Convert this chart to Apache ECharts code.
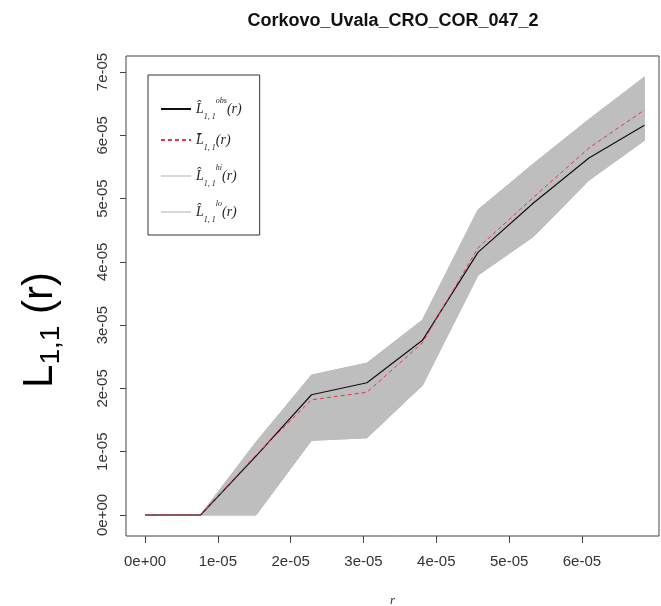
<!DOCTYPE html>
<html>
<head>
<meta charset="utf-8">
<script src="https://cdn.jsdelivr.net/npm/echarts@6/dist/echarts.min.js"></script>
<style>
  html, body { margin: 0; padding: 0; background: #fff; }
  #chart { width: 661px; height: 606px; }
</style>
</head>
<body>
<div id="chart"></div>
<script>
// values are in units of 1e-5
const UNIT = 1e-5
const rValues = [0, 0.762, 1.524, 2.286, 3.048, 3.81, 4.572, 5.334, 6.096, 6.858]
const obsValues = [0, 0, 0.93, 1.90, 2.09, 2.76, 4.15, 4.93, 5.64, 6.16]
const meanValues = [0, 0, 0.95, 1.82, 1.94, 2.72, 4.22, 5.02, 5.80, 6.40]
const hiValues = [0, 0, 1.15, 2.21, 2.40, 3.08, 4.82, 5.55, 6.25, 6.92]
const loValues = [0, 0, 0, 1.18, 1.22, 2.05, 3.79, 4.40, 5.29, 5.92]

const xTicks = [0, 1, 2, 3, 4, 5, 6]
const xTickLabels = ['0e+00', '1e-05', '2e-05', '3e-05', '4e-05', '5e-05', '6e-05']
const yTicks = [0, 1, 2, 3, 4, 5, 6, 7]
const yTickLabels = ['0e+00', '1e-05', '2e-05', '3e-05', '4e-05', '5e-05', '6e-05', '7e-05']

const pairs = (ys) => rValues.map((r, i) => [r * UNIT, ys[i] * UNIT])

const tickLabel = (ticks, labels) => (v) => {
  const i = ticks.findIndex((t) => Math.abs(t * UNIT - v) < 1e-12)
  return i >= 0 ? labels[i] : ''
}

// grey envelope between lo and hi, drawn as one polygon
const renderBand = (params, api) => {
  if (params.dataIndexInside !== 0) return null
  const upper = rValues.map((r, i) => api.coord([r * UNIT, hiValues[i] * UNIT]))
  const lower = rValues.map((r, i) => api.coord([r * UNIT, loValues[i] * UNIT])).reverse()
  return {
    type: 'polygon',
    shape: { points: upper.concat(lower) },
    style: { fill: '#bebebe', stroke: '#bebebe', lineWidth: 1 },
  }
}

const chart = echarts.init(document.getElementById('chart'), null, { renderer: 'canvas' })

const axisFont = { fontFamily: 'Liberation Sans', fontSize: 15, color: '#333' }
const legendRich = {
  L: { fontFamily: 'Liberation Serif', fontStyle: 'italic', fontSize: 14, color: '#222', lineHeight: 24, verticalAlign: 'middle' },
  sub: { fontFamily: 'Liberation Serif', fontStyle: 'italic', fontSize: 8, color: '#222', lineHeight: 10, verticalAlign: 'bottom' },
  sup: { fontFamily: 'Liberation Serif', fontStyle: 'italic', fontSize: 8, color: '#222', lineHeight: 10, verticalAlign: 'top' },
}
const legendText = {
  obs: '{L|L\u0302}{sub|1, 1}{sup|obs}{L|(r)}',
  mean: '{L|L\u0304}{sub|1, 1}{L|(r)}',
  hi: '{L|L\u0302}{sub|1, 1}{sup|hi}{L|(r)}',
  lo: '{L|L\u0302}{sub|1, 1}{sup|lo}{L|(r)}',
}

const option = {
  backgroundColor: '#fff',
  animation: false,
  title: {
    text: 'Corkovo_Uvala_CRO_COR_047_2',
    left: 388,
    textAlign: 'center',
    top: 7,
    textStyle: { fontFamily: 'Liberation Sans', fontSize: 18, fontWeight: 'bold', color: '#111' },
  },
  grid: {
    left: 126,
    top: 56,
    right: 2,
    bottom: 70,
    outerBoundsMode: 'none',
    containLabel: false,
    show: true,
    borderColor: '#444',
    borderWidth: 1,
    backgroundColor: 'transparent',
  },
  legend: {
    orient: 'vertical',
    left: 148,
    top: 75,
    padding: [22, 18, 11, 12],
    itemGap: 12,
    itemWidth: 30,
    itemHeight: 14,
    selectedMode: false,
    borderColor: '#333',
    borderWidth: 1,
    backgroundColor: '#fff',
    itemStyle: { opacity: 0 },
    data: [
      { name: 'obs' },
      { name: 'mean' },
      { name: 'hi', lineStyle: { color: '#d6d6d6' } },
      { name: 'lo', lineStyle: { color: '#d6d6d6' } },
    ],
    formatter: (name) => legendText[name],
    textStyle: { rich: legendRich },
  },
  xAxis: {
    type: 'value',
    min: -0.261 * UNIT,
    max: 7.058 * UNIT,
    name: 'r',
    nameLocation: 'middle',
    nameGap: 58,
    nameTextStyle: { fontFamily: 'Liberation Serif', fontStyle: 'italic', fontSize: 13, color: '#333' },
    axisLine: { show: false, onZero: false },
    splitLine: { show: false },
    axisTick: {
      show: true,
      length: 7,
      customValues: xTicks.map((t) => t * UNIT),
      lineStyle: { color: '#444' },
    },
    axisLabel: {
      margin: 18,
      customValues: xTicks.map((t) => t * UNIT),
      formatter: tickLabel(xTicks, xTickLabels),
      ...axisFont,
    },
  },
  yAxis: {
    type: 'value',
    min: -0.332 * UNIT,
    max: 7.253 * UNIT,
    axisLine: { show: false, onZero: false },
    splitLine: { show: false },
    axisTick: {
      show: true,
      length: 6,
      customValues: yTicks.map((t) => t * UNIT),
      lineStyle: { color: '#444' },
    },
    axisLabel: {
      margin: 16,
      rotate: 90,
      customValues: yTicks.map((t) => t * UNIT),
      formatter: tickLabel(yTicks, yTickLabels),
      ...axisFont,
    },
  },
  graphic: [
    {
      type: 'text',
      x: 40,
      y: 330,
      rotation: Math.PI / 2,
      style: {
        text: '{a|L}{b|1,1}{a| (r)}',
        align: 'center',
        verticalAlign: 'middle',
        rich: {
          a: { fontFamily: 'Liberation Sans', fontSize: 42, color: '#000', lineHeight: 50, verticalAlign: 'middle' },
          b: { fontFamily: 'Liberation Sans', fontSize: 28, color: '#000', lineHeight: 24, verticalAlign: 'bottom' },
        },
      },
    },
  ],
  series: [
    {
      name: 'band',
      type: 'custom',
      data: rValues.map((r, i) => [r * UNIT, loValues[i] * UNIT, hiValues[i] * UNIT]),
      encode: { x: 0, y: [1, 2] },
      renderItem: renderBand,
      silent: true,
      z: 1,
    },
    {
      name: 'lo',
      type: 'line',
      data: pairs(loValues),
      symbol: 'none',
      lineStyle: { color: '#bebebe', width: 1 },
      itemStyle: { color: '#bebebe' },
      z: 2,
    },
    {
      name: 'hi',
      type: 'line',
      data: pairs(hiValues),
      symbol: 'none',
      lineStyle: { color: '#bebebe', width: 1 },
      itemStyle: { color: '#bebebe' },
      z: 2,
    },
    {
      name: 'obs',
      type: 'line',
      data: pairs(obsValues),
      symbol: 'none',
      lineStyle: { color: '#111', width: 1.2 },
      itemStyle: { color: '#111' },
      z: 3,
    },
    {
      name: 'mean',
      type: 'line',
      data: pairs(meanValues),
      symbol: 'none',
      lineStyle: { color: '#e8344c', width: 1, type: [4, 3] },
      itemStyle: { color: '#e8344c' },
      z: 4,
    },
  ],
}

chart.setOption(option)
</script>
</body>
</html>
